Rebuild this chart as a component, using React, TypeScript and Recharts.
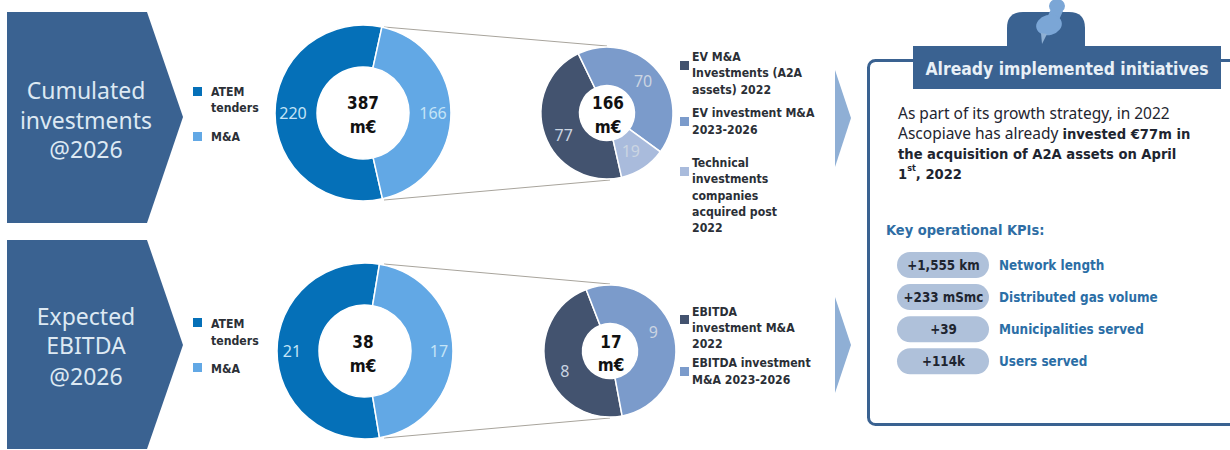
import React from "react";
import { PieChart, Pie, Cell } from "recharts";

// Values behind each donut
const investmentSplit = [
  { name: "ATEM tenders", value: 220 },
  { name: "M&A", value: 166 },
];
const investmentDetail = [
  { name: "EV M&A Investments (A2A assets) 2022", value: 77 },
  { name: "EV investment M&A 2023-2026", value: 70 },
  { name: "Technical investments companies acquired post 2022", value: 19 },
];
const ebitdaSplit = [
  { name: "ATEM tenders", value: 21 },
  { name: "M&A", value: 17 },
];
const ebitdaDetail = [
  { name: "EBITDA investment M&A 2022", value: 8 },
  { name: "EBITDA investment M&A 2023-2026", value: 9 },
];

const splitLegend = [["ATEM", "tenders"], ["M&A"]];
const investmentLegend = [
  ["EV M&A", "Investments (A2A", "assets) 2022"],
  ["EV investment M&A", "2023-2026"],
  ["Technical", "investments", "companies", "acquired post", "2022"],
];
const ebitdaLegend = [
  ["EBITDA", "investment M&A", "2022"],
  ["EBITDA investment", "M&A 2023-2026"],
];
const kpiValues = ["+1,555 km", "+233 mSmc", "+39", "+114k"];
const kpiNames = ["Network length", "Distributed gas volume", "Municipalities served", "Users served"];

const BLUE = "#3A6291";
const SPLIT_COLORS = ["#0570B8", "#62A8E5"];
const DETAIL_COLORS = ["#43536F", "#7B9BCB", "#A9BBDC"];
const FONT = "'DejaVu Sans Condensed', 'DejaVu Sans', sans-serif";
const BODY_FONT = "'Noto Sans', sans-serif";

type Nudge = [number, number];

// Draws the value inside a ring segment, with an optional per-segment shift.
const ringLabel = (radius: number, color: string, nudges: Nudge[]) => (p: any) => {
  const a = (-p.midAngle * Math.PI) / 180;
  const [dx, dy] = nudges[p.index] ?? [0, 0];
  return (
    <text
      x={p.cx + radius * Math.cos(a) + dx}
      y={p.cy + radius * Math.sin(a) + dy}
      fill={color}
      fontFamily={BODY_FONT}
      fontSize={16}
      textAnchor="middle"
      dominantBaseline="central"
    >
      {p.value}
    </text>
  );
};

function Donut(props: {
  data: { name: string; value: number }[];
  colors: string[];
  cx: number;
  cy: number;
  inner: number;
  outer: number;
  start: number;
  labelRadius: number;
  labelColor: string;
  nudges?: Nudge[];
}) {
  const { data, colors, cx, cy, inner, outer, start, labelRadius, labelColor, nudges = [] } = props;
  return (
    <Pie
      data={data}
      dataKey="value"
      nameKey="name"
      cx={cx}
      cy={cy}
      innerRadius={inner}
      outerRadius={outer}
      startAngle={start}
      endAngle={start - 360}
      stroke="#FFFFFF"
      strokeWidth={1.5}
      labelLine={false}
      label={ringLabel(labelRadius, labelColor, nudges)}
      isAnimationActive={false}
    >
      {data.map((d, i) => (
        <Cell key={d.name} fill={colors[i]} />
      ))}
    </Pie>
  );
}

const Lines = (p: { lines: string[]; x: number; ys: number[]; size: number; fill: string; weight?: any; anchor?: any; font?: string }) => (
  <>
    {p.lines.map((t, i) => (
      <text
        key={i}
        x={p.x}
        y={p.ys[i]}
        fontSize={p.size}
        fill={p.fill}
        fontWeight={p.weight ?? "normal"}
        fontFamily={p.font ?? FONT}
        textAnchor={p.anchor ?? "start"}
        dominantBaseline="central"
      >
        {t}
      </text>
    ))}
  </>
);

const Marker = ({ x, y, fill }: { x: number; y: number; fill: string }) => <rect x={x} y={y} width={9} height={9} fill={fill} />;

const LEGEND_TEXT = "#2B2F36";
const LEGEND_SIZE = 12.2;

export default function App() {
  return (
    <div style={{ position: "fixed", left: 0, top: 0, width: 1230, height: 450, background: "#fff", overflow: "hidden" }}>
      <svg width={1230} height={450} style={{ position: "absolute", left: 0, top: 0 }}>
        {/* Section banners */}
        <polygon points="7,12 147,12 183,117 147,223 7,223" fill={BLUE} />
        <polygon points="7,240 147,240 183,345 147,449 7,449" fill={BLUE} />
        <Lines lines={["Cumulated", "investments", "@2026"]} x={86} ys={[90, 120, 149]} size={23} fill="#DDE9F3" anchor="middle" font={BODY_FONT} />
        <Lines lines={["Expected", "EBITDA", "@2026"]} x={86} ys={[316, 345, 376]} size={23} fill="#DDE9F3" anchor="middle" font={BODY_FONT} />

        {/* Connectors from the M&A segment to its breakdown */}
        <g stroke="#A8A49C" strokeWidth={1} fill="none">
          <line x1={384} y1={27} x2={607} y2={46} />
          <line x1={384} y1={200} x2={610} y2={180} />
          <line x1={384} y1={264} x2={610} y2={284} />
          <line x1={384} y1={438} x2={610} y2={418} />
        </g>

        {/* Arrows towards the side panel */}
        <polygon points="835,70 851,118 835,167" fill="#8FAFD5" />
        <polygon points="835,297 851,345 835,393" fill="#8FAFD5" />

        {/* Totals in the donut holes */}
        <Lines lines={["387", "m€"]} x={363} ys={[103, 127]} size={17} fill="#111" weight="bold" anchor="middle" />
        <Lines lines={["166", "m€"]} x={608} ys={[103, 127]} size={17} fill="#111" weight="bold" anchor="middle" />
        <Lines lines={["38", "m€"]} x={363} ys={[342, 366]} size={17} fill="#111" weight="bold" anchor="middle" />
        <Lines lines={["17", "m€"]} x={611} ys={[342, 365]} size={17} fill="#111" weight="bold" anchor="middle" />

        {/* Split legends */}
        <Marker x={193} y={87} fill={SPLIT_COLORS[0]} />
        <Marker x={193} y={132} fill={SPLIT_COLORS[1]} />
        <Lines lines={splitLegend[0]} x={211} ys={[92, 108]} size={LEGEND_SIZE} fill={LEGEND_TEXT} weight="bold" />
        <Lines lines={splitLegend[1]} x={211} ys={[137]} size={LEGEND_SIZE} fill={LEGEND_TEXT} weight="bold" />
        <Marker x={193} y={318} fill={SPLIT_COLORS[0]} />
        <Marker x={193} y={363} fill={SPLIT_COLORS[1]} />
        <Lines lines={splitLegend[0]} x={211} ys={[324, 341]} size={LEGEND_SIZE} fill={LEGEND_TEXT} weight="bold" />
        <Lines lines={splitLegend[1]} x={211} ys={[369]} size={LEGEND_SIZE} fill={LEGEND_TEXT} weight="bold" />

        {/* Breakdown legends */}
        <Marker x={680} y={61} fill={DETAIL_COLORS[0]} />
        <Marker x={680} y={117} fill={DETAIL_COLORS[1]} />
        <Marker x={680} y={167} fill={DETAIL_COLORS[2]} />
        <Lines lines={investmentLegend[0]} x={692} ys={[57, 73, 90]} size={LEGEND_SIZE} fill={LEGEND_TEXT} weight="bold" />
        <Lines lines={investmentLegend[1]} x={692} ys={[113, 130]} size={LEGEND_SIZE} fill={LEGEND_TEXT} weight="bold" />
        <Lines lines={investmentLegend[2]} x={692} ys={[163, 179, 196, 212, 228]} size={LEGEND_SIZE} fill={LEGEND_TEXT} weight="bold" />
        <Marker x={680} y={315} fill={DETAIL_COLORS[0]} />
        <Marker x={680} y={367} fill={DETAIL_COLORS[1]} />
        <Lines lines={ebitdaLegend[0]} x={692} ys={[312, 328, 344]} size={LEGEND_SIZE} fill={LEGEND_TEXT} weight="bold" />
        <Lines lines={ebitdaLegend[1]} x={692} ys={[363, 380]} size={LEGEND_SIZE} fill={LEGEND_TEXT} weight="bold" />

        {/* Side panel */}
        <rect x={868.5} y={60.5} width={380} height={364} rx={7} fill="none" stroke={BLUE} strokeWidth={3} />
        <path d="M1007,46 V28 Q1007,12 1023,12 H1069 Q1085,12 1085,28 V46 Z" fill={BLUE} />
        <rect x={913} y={46} width={308} height={43} fill={BLUE} />
        {/* Push pin on the panel tab */}
        <g fill="#7BA6D6">
          <ellipse cx={1057} cy={6} rx={8} ry={7} />
          <polygon points="1051,9 1063,11 1058,22 1046,20" />
          <ellipse cx={1049} cy={25} rx={13} ry={10} transform="rotate(-15 1049 25)" />
        </g>
        <polygon points="1041,33 1047,34 1042,44" fill="#8FB0D4" />
        <text x={1067} y={69} fontSize={17.4} fill="#E8F0F7" fontWeight="bold" fontFamily={FONT} textAnchor="middle" dominantBaseline="central">
          Already implemented initiatives
        </text>

        <g fontFamily={FONT} fontSize={14.6} fill="#1E2530" dominantBaseline="central">
          <text x={898} y={113} fontFamily={BODY_FONT} fontSize={15.5}>As part of its growth strategy, in 2022</text>
          <text x={898} y={133}>
            <tspan fontFamily={BODY_FONT} fontSize={15.5}>Ascopiave has already </tspan>
            <tspan fontWeight="bold">invested €77m in</tspan>
          </text>
          <text x={898} y={153} fontWeight="bold">the acquisition of A2A assets on April</text>
          <text x={898} y={173} fontWeight="bold">
            1<tspan fontSize={9} dy={-5}>st</tspan>
            <tspan dy={5}>, 2022</tspan>
          </text>
        </g>

        <text x={886} y={230} fontSize={14.5} fill="#2E6DA4" fontWeight="bold" fontFamily={FONT} dominantBaseline="central">
          Key operational KPIs:
        </text>
        {kpiValues.map((v, i) => {
          const y = 265 + i * 32.1;
          return (
            <g key={v}>
              <rect x={897} y={y - 13} width={92} height={26} rx={13} fill="#AFC1DA" />
              <text x={943.5} y={y} fontSize={13.3} fontWeight="bold" fill="#1E2530" fontFamily={FONT} textAnchor="middle" dominantBaseline="central">
                {v}
              </text>
              <text x={999} y={y} fontSize={13.4} fontWeight="bold" fill="#2B6EA6" fontFamily={FONT} dominantBaseline="central">
                {kpiNames[i]}
              </text>
            </g>
          );
        })}
      </svg>

      <div style={{ position: "absolute", left: 0, top: 0 }}>
        <PieChart width={1230} height={450} margin={{ top: 0, right: 0, bottom: 0, left: 0 }}>
          {Donut({ data: investmentSplit, colors: SPLIT_COLORS, cx: 363, cy: 113, inner: 46, outer: 88, start: -77.2, labelRadius: 70, labelColor: "#C4E4F7" })}
          {Donut({ data: investmentDetail, colors: DETAIL_COLORS, cx: 607, cy: 113, inner: 27.5, outer: 66, start: -77.2, labelRadius: 47, labelColor: "#CBD5E2", nudges: [[1, 6], [0, -2], [-2, -1]] })}
          {Donut({ data: ebitdaSplit, colors: SPLIT_COLORS, cx: 365, cy: 351, inner: 46, outer: 88, start: -80.5, labelRadius: 73, labelColor: "#C4E4F7", nudges: [[0, 0], [1, 0]] })}
          {Donut({ data: ebitdaDetail, colors: DETAIL_COLORS, cx: 610, cy: 351, inner: 27.5, outer: 66, start: -79.4, labelRadius: 47, labelColor: "#CBD5E2", nudges: [[0, 7], [-2, -6]] })}
        </PieChart>
      </div>
    </div>
  );
}
